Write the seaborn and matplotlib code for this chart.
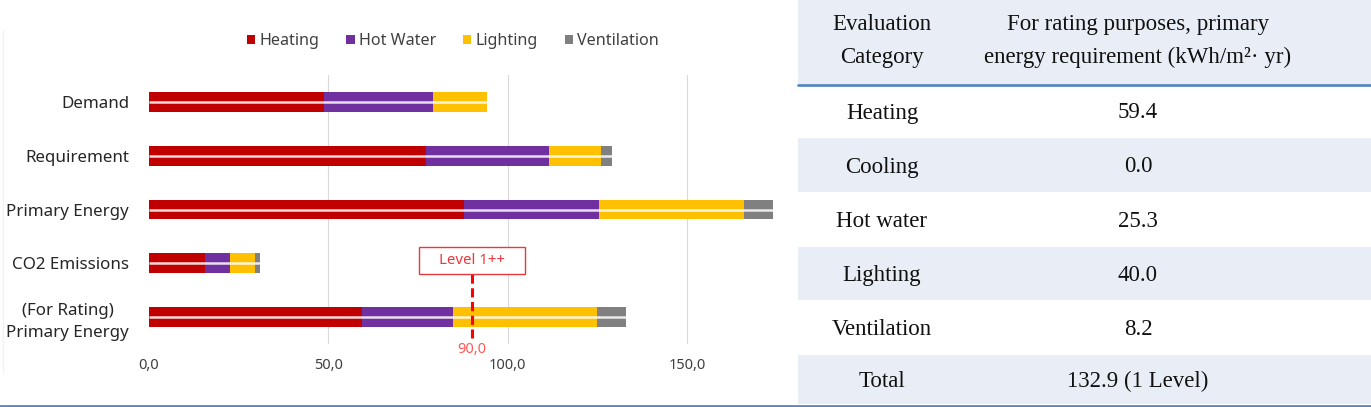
import matplotlib
matplotlib.use('Agg')
import matplotlib.pyplot as plt
from matplotlib.patches import Patch, Rectangle
from matplotlib.lines import Line2D
import seaborn as sns
import pandas as pd
import numpy as np

# 차트 데이터
categories = ['Demand', 'Requirement', 'Primary Energy', 'CO2 Emissions', '(For Rating)\nPrimary Energy']
heating = [48.8, 77.2, 87.8, 15.7, 59.4]
hot_water = [30.3, 34.2, 37.7, 6.9, 25.3]
lighting = [15.0, 14.5, 40.3, 7.0, 40.0]
ventilation = [0.0, 3.0, 8.0, 1.5, 8.2]
series_names = ['Heating', 'Hot Water', 'Lighting', 'Ventilation']
series_colors = ['#c00000', '#7030a0', '#ffc000', '#808080']
level_value = 90.0
level_label = 'Level 1++'
x_ticks = [0, 50, 100, 150]

# 표 데이터
table_header = ['Evaluation\nCategory', 'For rating purposes, primary\nenergy requirement (kWh/m²· yr)']
table_rows = ['Heating', 'Cooling', 'Hot water', 'Lighting', 'Ventilation', 'Total']
table_values = ['59.4', '0.0', '25.3', '40.0', '8.2', '132.9 (1 Level)']

sns.set_style('white')
plt.rcParams['font.family'] = ['Noto Sans', 'DejaVu Sans']

fig = plt.figure(figsize=(13.71, 4.07), dpi=100)

df = pd.DataFrame({'cat': categories, 'Heating': heating, 'Hot Water': hot_water,
                   'Lighting': lighting, 'Ventilation': ventilation})
# 누적 합계 (긴 막대부터 그려서 겹치게)
cum = df[series_names].cumsum(axis=1)

ax = fig.add_axes([148.5 / 1371, 1 - 344 / 407, 175 * 3.593 / 1371, 269 / 407])
for name, color in reversed(list(zip(series_names, series_colors))):
    sns.barplot(x=cum[name], y=df['cat'], orient='h', color=color, width=0.37,
                saturation=1, errorbar=None, ax=ax, linewidth=0)

totals = cum['Ventilation'].values
ax.hlines(np.arange(len(categories)), 0, totals, color='white', lw=1.8, alpha=0.85, zorder=3)

ax.set_xlim(0, 175)
ax.set_ylim(4.5, -0.5)
ax.set_xlabel('')
ax.set_ylabel('')
ax.set_xticks(x_ticks)
ax.set_xticklabels([f'{t:.1f}'.replace('.', ',') for t in x_ticks], color='#404040', fontsize=10.5)
ax.tick_params(axis='x', length=0, pad=10)
ax.tick_params(axis='y', length=0, pad=14)
for lab in ax.get_yticklabels():
    lab.set_fontsize(12.2)
    lab.set_color('#262626')
    lab.set_multialignment('center')
    lab.set_linespacing(1.5)
for t in x_ticks[1:]:
    ax.axvline(t, color='#d9d9d9', lw=0.8, zorder=0)
for s in ax.spines.values():
    s.set_visible(False)

# 기준선 Level 1++
ax.plot([level_value, level_value], [3.19, 4.39], color='#ff0000', lw=2.2, ls=(0, (3, 1.5)), zorder=4)
ax.add_patch(Rectangle((level_value - 14.75, 2.70), 29.5, 0.49, fc='white', ec='#e8383d', lw=1.0, zorder=5))
ax.text(level_value, 2.945, level_label, ha='center', va='center', color='#e8383d', fontsize=10.8, zorder=6)
ax.text(level_value, -0.022, f'{level_value:.1f}'.replace('.', ','), transform=ax.get_xaxis_transform(),
        ha='center', va='center', color='#ff5a5a', fontsize=10.5)

handles = [Patch(facecolor=c, edgecolor='none') for c in series_colors]
fig.legend(handles, series_names, loc='center', bbox_to_anchor=(453 / 1371, 1 - 41 / 407), ncol=4,
           frameon=False, fontsize=11.6, handlelength=0.5, handleheight=0.5, handletextpad=0.25,
           columnspacing=1.7, labelcolor='#404040')

fig.add_artist(Line2D([3 / 1371, 3 / 1371], [1 - 30 / 407, 1 - 372 / 407], color='#f2f2f2', lw=1))

# 오른쪽 표
tax = fig.add_axes([0, 0, 1, 1])
tax.set_xlim(0, 1371)
tax.set_ylim(407, 0)
tax.axis('off')
shade = '#e9eef6'
row_edges = [84, 138, 192, 247, 300, 355, 404]
tax.add_patch(Rectangle((798, 0), 1371 - 798, 84, fc=shade, ec='none'))
for i in range(len(table_rows)):
    if i % 2 == 1:
        tax.add_patch(Rectangle((798, row_edges[i]), 1371 - 798, row_edges[i + 1] - row_edges[i], fc=shade, ec='none'))
tax.plot([798, 1371], [85, 85], color='#5b86bf', lw=2)
tax.plot([0, 1371], [405.5, 405.5], color='#5b86bf', lw=2)

serif = ['Liberation Serif', 'DejaVu Serif']
col1, col2 = 882, 1138
tax.text(col1, 41, table_header[0], ha='center', va='center', fontsize=16.5, family=serif,
         color='#111111', linespacing=1.75)
tax.text(col2, 41, table_header[1], ha='center', va='center', fontsize=16.5, family=serif,
         color='#111111', linespacing=1.75)
for i, (r, v) in enumerate(zip(table_rows, table_values)):
    yc = (row_edges[i] + row_edges[i + 1]) / 2 + 2
    tax.text(col1, yc, r, ha='center', va='center', fontsize=16.5, family=serif, color='#111111')
    tax.text(col2, yc, v, ha='center', va='center', fontsize=16.5, family=serif, color='#111111')

fig.savefig('out.png', dpi=100)
